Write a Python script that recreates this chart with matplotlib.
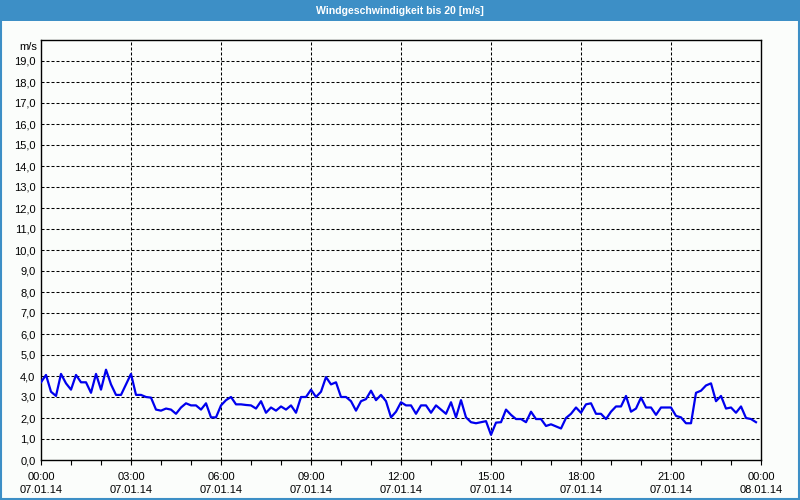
import numpy as np
import matplotlib
matplotlib.use("Agg")
import matplotlib.pyplot as plt
from matplotlib.patches import Rectangle

title = "Windgeschwindigkeit bis 20 [m/s]"
unit = "m/s"
# wind speed every 10 minutes from 07.01.14 00:00 to 23:50
speed = [
    3.7, 4.05, 3.25, 3.05, 4.1, 3.65,
    3.35, 4.05, 3.7, 3.7, 3.2, 4.1,
    3.35, 4.3, 3.6, 3.1, 3.1, 3.6,
    4.1, 3.1, 3.1, 3.0, 2.97, 2.4,
    2.35, 2.45, 2.4, 2.2, 2.5, 2.7,
    2.6, 2.6, 2.4, 2.7, 2.03, 2.03,
    2.6, 2.85, 3.0, 2.65, 2.65, 2.62,
    2.6, 2.45, 2.8, 2.25, 2.5, 2.35,
    2.55, 2.4, 2.6, 2.25, 3.0, 3.0,
    3.35, 3.0, 3.25, 3.95, 3.6, 3.7,
    3.0, 3.0, 2.8, 2.35, 2.8, 2.9,
    3.3, 2.85, 3.1, 2.8, 2.03, 2.3,
    2.75, 2.6, 2.6, 2.2, 2.6, 2.6,
    2.25, 2.6, 2.4, 2.2, 2.75, 2.03,
    2.85, 2.03, 1.8, 1.75, 1.8, 1.85,
    1.2, 1.78, 1.8, 2.4, 2.15, 1.95,
    1.95, 1.8, 2.3, 1.95, 1.95, 1.62,
    1.7, 1.6, 1.5, 2.0, 2.2, 2.5,
    2.25, 2.65, 2.7, 2.2, 2.2, 1.95,
    2.3, 2.55, 2.55, 3.05, 2.3, 2.45,
    2.97, 2.5, 2.5, 2.15, 2.5, 2.5,
    2.5, 2.1, 2.03, 1.75, 1.75, 3.2,
    3.3, 3.55, 3.65, 2.8, 3.05, 2.45,
    2.5, 2.25, 2.55, 2.0, 1.95, 1.8,
]
hours = np.arange(len(speed)) / 6.0
time_labels = ["00:00", "03:00", "06:00", "09:00", "12:00", "15:00", "18:00", "21:00", "00:00"]
date_labels = ["07.01.14"] * 8 + ["08.01.14"]
y_ticks = np.arange(0, 20, 1)

plt.rcParams['font.family'] = ['Liberation Sans', 'DejaVu Sans']
bg = '#fbfdfb'
blue_bar = '#3d8fc6'

fig = plt.figure(figsize=(8, 5), dpi=100, facecolor=bg)
W, H = 800, 500

# title bar and frame
fig.patches.append(Rectangle((0, 1 - 21 / H), 1, 21 / H, transform=fig.transFigure,
                             facecolor=blue_bar, edgecolor='none', zorder=0))
fig.patches.append(Rectangle((1 / W, 1 / H), 1 - 2 / W, 1 - 2 / H, transform=fig.transFigure,
                             facecolor='none', edgecolor=blue_bar, linewidth=1.5, zorder=1))
fig.text(0.5, 1 - 10.5 / H, title, ha='center', va='center', color='white',
         fontsize=7.6, fontweight='bold')

ax = fig.add_axes([41 / W, 40 / H, 720 / W, 420 / H])
ax.set_facecolor(bg)
ax.plot(hours, speed, color='#0000ee', linewidth=1.6, zorder=3)

ax.set_xlim(0, 24)
ax.set_ylim(0, 20)
major_x = np.arange(0, 25, 3)
ax.set_xticks(major_x)
ax.set_xticklabels([f"{t}\n{d}" for t, d in zip(time_labels, date_labels)], fontsize=8,
                   linespacing=1.35)
ax.set_xticks(np.arange(0, 25, 1), minor=True)
ax.set_yticks(y_ticks)
ax.set_yticklabels([f"{v:.1f}".replace('.', ',') for v in y_ticks], fontsize=8)

ax.tick_params(axis='x', which='both', direction='out', length=3.5, width=0.8, pad=5, colors='black')
ax.tick_params(axis='y', which='both', length=0, pad=4)

dash = (0, (2.9, 1.9))
for v in y_ticks[1:]:
    ax.axhline(v, color='black', linewidth=0.75, linestyle=dash, zorder=1)
for h in major_x[1:-1]:
    ax.axvline(h, color='black', linewidth=0.75, linestyle=dash, zorder=1)

for s in ax.spines.values():
    s.set_color('black')
    s.set_linewidth(1.0)

fig.text(37 / W, 1 - 47 / H, unit, ha='right', va='center', fontsize=8)

fig.savefig('out.png', dpi=100, facecolor=bg)
